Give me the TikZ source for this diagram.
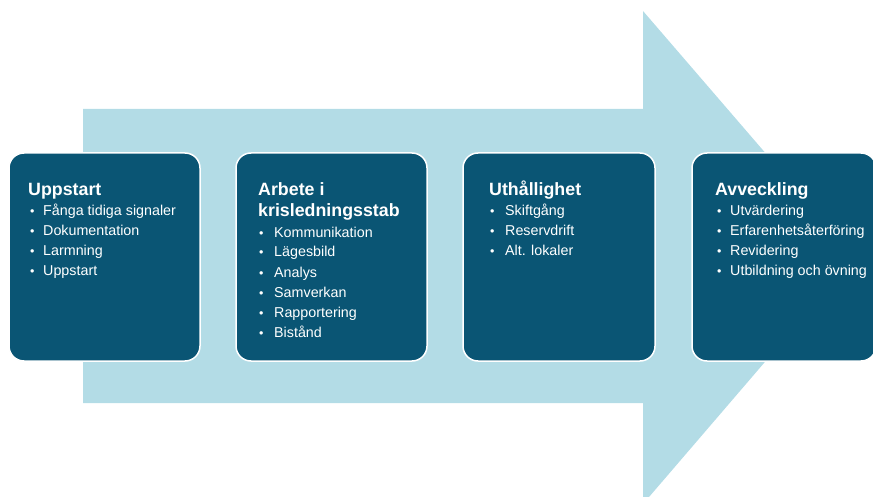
\documentclass[tikz,border=0pt]{standalone}
\usepackage{fontspec}
\setmainfont{Liberation Sans}
\definecolor{dark}{HTML}{0A5574}
\definecolor{light}{HTML}{B3DCE6}
\begin{document}
\begin{tikzpicture}[x=1pt,y=-1pt,
  stage/.style={draw=white, line width=1.5pt, fill=dark, rounded corners=15pt},
  ttl/.style={anchor=base west, text=white, inner sep=0pt, font=\fontsize{17.8}{21}\selectfont\bfseries},
  itm/.style={anchor=base west, text=white, inner sep=0pt, font=\fontsize{14.3}{20}\selectfont},
  bul/.style={anchor=base west, text=white, inner sep=0pt, font=\fontsize{12.5}{20}\selectfont}]
\useasboundingbox (0,0) rectangle (873,497);
\begin{scope}
\clip (0,0) rectangle (873,497);
\fill[light] (83,109) -- (643,109) -- (643,11) -- (855,257) -- (643,504) -- (643,403) -- (83,403) -- cycle;
\draw[stage] (9,153) rectangle (200,361);
\draw[stage] (236,153) rectangle (427,361);
\draw[stage] (463,153) rectangle (655,361);
\draw[stage] (692,153) rectangle (876,361);
\end{scope}
% box 1
\node[ttl] (t1) at (28,196) {Uppstart};
\foreach \t [count=\i] in {Fånga tidiga signaler,Dokumentation,Larmning,Uppstart}{
  \node[bul] (b1\i) at (30,196+20*\i) {•};
  \node[itm] (i1\i) at (43,196+20*\i) {\t};
}
% box 2
\node[ttl] (t2a) at (258,196) {Arbete i};
\node[ttl] (t2b) at (258,217) {krisledningsstab};
\foreach \t [count=\i] in {Kommunikation,Lägesbild,Analys,Samverkan,Rapportering,Bistånd}{
  \node[bul] (b2\i) at (259,217+20*\i) {•};
  \node[itm] (i2\i) at (274,217+20*\i) {\t};
}
% box 3
\node[ttl] (t3) at (489,196) {Uthållighet};
\foreach \t [count=\i] in {Skiftgång,Reservdrift,Alt. lokaler}{
  \node[bul] (b3\i) at (490,196+20*\i) {•};
  \node[itm] (i3\i) at (505,196+20*\i) {\t};
}
% box 4
\node[ttl] (t4) at (715,196) {Avveckling};
\foreach \t [count=\i] in {Utvärdering,Erfarenhetsåterföring,Revidering,Utbildning och övning}{
  \node[bul] (b4\i) at (717,196+20*\i) {•};
  \node[itm] (i4\i) at (730,196+20*\i) {\t};
}
\end{tikzpicture}
\end{document}
